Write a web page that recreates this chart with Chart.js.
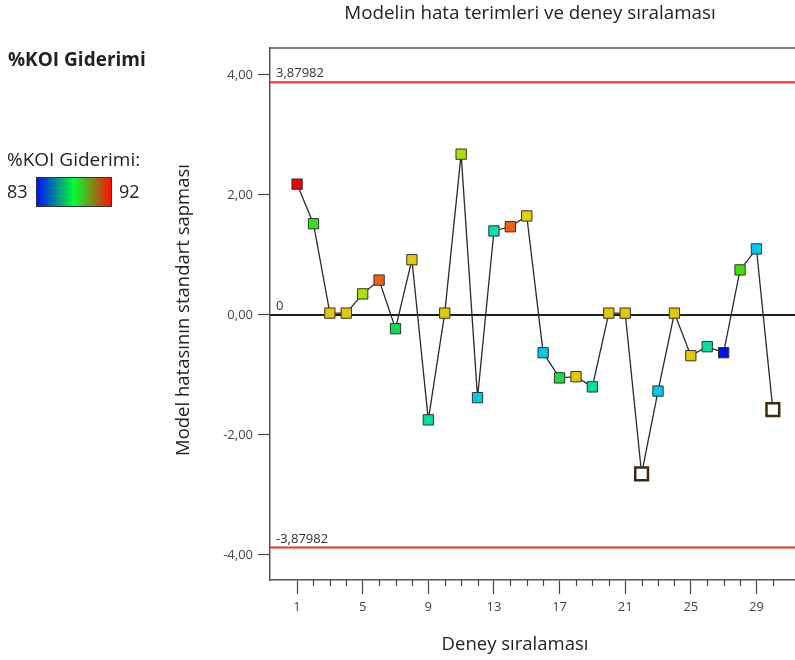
<!DOCTYPE html>
<html>
<head>
<meta charset="utf-8">
<script src="https://cdn.jsdelivr.net/npm/chart.js@4"></script>
<style>
  body { margin: 0; background: #fff; }
</style>
</head>
<body>
<canvas id="myChart" width="795" height="660"></canvas>
<script>
/* globals Chart */

// data
const runOrder = [1, 2, 3, 4, 5, 6, 7, 8, 9, 10, 11, 12, 13, 14, 15,
  16, 17, 18, 19, 20, 21, 22, 23, 24, 25, 26, 27, 28, 29, 30];
const residuals = [2.18, 1.52, 0.03, 0.03, 0.35, 0.58, -0.23, 0.92, -1.75, 0.03,
  2.68, -1.38, 1.40, 1.47, 1.65, -0.63, -1.05, -1.03, -1.20, 0.03,
  0.03, -2.65, -1.27, 0.03, -0.68, -0.53, -0.63, 0.75, 1.10, -1.58];
const limit = 3.87982;
const yTicks = [-4, -2, 0, 2, 4];
const xTicks = [1, 5, 9, 13, 17, 21, 25, 29];
const koiRange = [83, 92];

// axis window
const xMin = -0.65, xMax = 31.35;
const yMin = -4.42, yMax = 4.45;

// marker colours (response colour scale)
const pointColors = ["#ee0000", "#33e020", "#e2c800", "#e2c800", "#a8e000",
  "#f06010", "#00e050", "#e2c800", "#00e0a0", "#e2c800",
  "#a8e000", "#00c8e8", "#00e0b0", "#f06010", "#e8d000",
  "#00c8e8", "#20d840", "#e2c800", "#00e0a0", "#e2c800",
  "#e2c800", "#ffffff", "#00c8e8", "#e2c800", "#e2c800",
  "#00e0a0", "#0010e8", "#40e000", "#00c8f0", "#ffffff"];
const hollow = [22, 30];

const font = "'Open Sans', 'Noto Sans', sans-serif";
const comma = (v) => String(v).replace(".", ",");

const decor = {
  id: "decor",
  afterDraw(chart) {
    const ctx = chart.ctx;
    const { left, right, top, bottom } = chart.chartArea;
    const xs = chart.scales.x;
    const ys = chart.scales.y;
    ctx.save();
    // top frame line
    ctx.strokeStyle = "#555";
    ctx.lineWidth = 1.5;
    ctx.beginPath();
    ctx.moveTo(left, top);
    ctx.lineTo(right, top);
    ctx.stroke();
    // minor ticks
    ctx.lineWidth = 1.2;
    ctx.strokeStyle = "#444";
    ctx.beginPath();
    runOrder.forEach((v) => {
      if (xTicks.includes(v)) return;
      const px = Math.round(xs.getPixelForValue(v)) + 0.5;
      ctx.moveTo(px, bottom);
      ctx.lineTo(px, bottom + 6);
    });
    ctx.stroke();

    // line labels
    ctx.fillStyle = "#333";
    ctx.font = "13px " + font;
    ctx.textAlign = "left";
    ctx.textBaseline = "alphabetic";
    ctx.fillText(comma(limit), left + 6, ys.getPixelForValue(limit) - 5);
    ctx.fillText("0", left + 6, ys.getPixelForValue(0) - 5);
    ctx.fillText(comma(-limit), left + 6, ys.getPixelForValue(-limit) - 5);

    // titles
    ctx.fillStyle = "#222";
    ctx.textAlign = "center";
    ctx.textBaseline = "middle";
    ctx.font = "18.8px " + font;
    ctx.fillText("Modelin hata terimleri ve deney sıralaması", 530, 14);
    ctx.font = "18.5px " + font;
    ctx.fillText("Deney sıralaması", 515, 645);
    ctx.save();
    ctx.translate(184, 310);
    ctx.rotate(-Math.PI / 2);
    ctx.fillText("Model hatasının standart sapması", 0, 0);
    ctx.restore();

    // colour legend
    ctx.textAlign = "left";
    ctx.font = "bold 19px " + font;
    ctx.fillText("%KOI Giderimi", 8, 61);
    ctx.font = "19px " + font;
    ctx.fillText("%KOI Giderimi:", 7, 161);
    ctx.font = "18px " + font;
    ctx.fillText(String(koiRange[0]), 7, 193);
    ctx.fillText(String(koiRange[1]), 119, 193);
    const g = ctx.createLinearGradient(37, 0, 111, 0);
    g.addColorStop(0, "#0010ff");
    g.addColorStop(0.5, "#00ff30");
    g.addColorStop(1, "#ff1000");
    ctx.fillStyle = g;
    ctx.fillRect(37, 178, 74, 28);
    ctx.strokeStyle = "#333";
    ctx.lineWidth = 1;
    ctx.strokeRect(36.5, 177.5, 75, 29);
    ctx.restore();
  },
};

const ctx = document.getElementById("myChart").getContext("2d");

/* exported myChart */
const myChart = new Chart(ctx, {
  type: "line",
  data: {
    datasets: [
      {
        data: runOrder.map((x, i) => ({ x, y: residuals[i] })),
        borderColor: "#2a2a2a",
        borderWidth: 1.3,
        tension: 0,
        pointStyle: "rect",
        pointRadius: runOrder.map((x) => (hollow.includes(x) ? 9 : 7.3)),
        pointBackgroundColor: pointColors,
        pointBorderColor: runOrder.map((x) => (hollow.includes(x) ? "#3d2a12" : "#333")),
        pointBorderWidth: runOrder.map((x) => (hollow.includes(x) ? 2.5 : 1)),
      },
      {
        data: [{ x: xMin, y: 0 }, { x: xMax, y: 0 }],
        borderColor: "#1e1e1e",
        borderWidth: 2,
        pointRadius: 0,
      },
      {
        data: [{ x: xMin, y: limit }, { x: xMax, y: limit }],
        borderColor: "#ff2a2a",
        borderWidth: 2,
        pointRadius: 0,
      },
      {
        data: [{ x: xMin, y: -limit }, { x: xMax, y: -limit }],
        borderColor: "#ff2a2a",
        borderWidth: 2,
        pointRadius: 0,
      },
    ],
  },
  options: {
    responsive: false,
    animation: false,
    layout: {
      autoPadding: false,
      padding: { top: 48, left: 0, right: 0, bottom: 0 },
    },
    scales: {
      x: {
        type: "linear",
        min: xMin,
        max: xMax,
        afterBuildTicks: (s) => {
          s.ticks = xTicks.map((value) => ({ value }));
        },
        afterFit: (s) => {
          s.height = 80;
        },
        grid: {
          drawOnChartArea: false,
          tickLength: 14,
          tickColor: "#444",
          tickWidth: 1.2,
        },
        border: { color: "#555", width: 1.5 },
        ticks: {
          color: "#444",
          padding: 5,
          maxRotation: 0,
          autoSkip: false,
          font: { family: font, size: 13 },
        },
      },
      y: {
        type: "linear",
        min: yMin,
        max: yMax,
        afterBuildTicks: (s) => {
          s.ticks = yTicks.map((value) => ({ value }));
        },
        afterFit: (s) => {
          s.width = 270;
        },
        grid: {
          drawOnChartArea: false,
          tickLength: 12,
          tickColor: "#444",
          tickWidth: 1.2,
        },
        border: { color: "#555", width: 1.5 },
        ticks: {
          color: "#444",
          padding: 5,
          callback: (v) => v.toFixed(2).replace(".", ","),
          font: { family: font, size: 13 },
        },
      },
    },
    plugins: {
      legend: { display: false },
      title: { display: false },
      tooltip: { enabled: false },
    },
  },
  plugins: [decor],
});
</script>
</body>
</html>
